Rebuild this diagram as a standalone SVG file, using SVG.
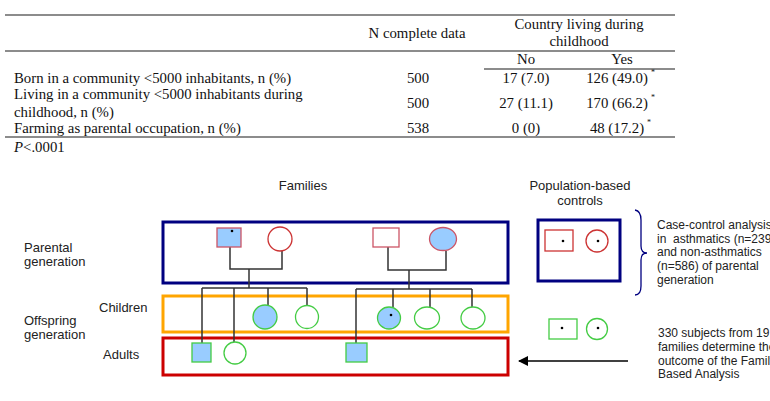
<svg xmlns="http://www.w3.org/2000/svg" width="770" height="401" viewBox="0 0 770 401">
<defs>
<style>
.tt{font-family:"Liberation Serif","Times New Roman",serif;font-size:14.8px;fill:#111}
.c{text-anchor:middle}
.sup{font-size:8px}
.lab{font-family:"Liberation Sans",Arial,sans-serif;font-size:13px;fill:#222}
.note{font-family:"Liberation Sans",Arial,sans-serif;font-size:12px;fill:#222}
.rule{stroke:#666;stroke-width:1.5}
.navy{fill:none;stroke:#000080;stroke-width:3}
.orange{fill:none;stroke:#FFA500;stroke-width:3}
.redbox{fill:none;stroke:#CC0000;stroke-width:3}
.link{fill:none;stroke:#333;stroke-width:1.5}
.aff{fill:#99CCFF}
.pstroke{stroke:#CC5566;stroke-width:1.3}
.rstroke{stroke:#CC3333;stroke-width:1.3}
.gstroke{stroke:#44CC44;stroke-width:1.3}
.open{fill:#fff}
.dot{fill:#000}
</style>
<marker id="arr" viewBox="0 0 10 10" refX="9" refY="5" markerWidth="10" markerHeight="10" markerUnits="userSpaceOnUse" orient="auto">
<path d="M0,0 L10,5 L0,10 z" fill="#000"/>
</marker>
</defs>
<rect width="770" height="401" fill="#fff"/>

<g id="table">
<line class="rule" x1="5" y1="15" x2="675" y2="15"/>
<line class="rule" x1="5" y1="51" x2="675" y2="51"/>
<line class="rule" x1="484" y1="69" x2="675" y2="69"/>
<line class="rule" x1="5" y1="137" x2="675" y2="137"/>
<text class="tt c" x="417" y="38">N complete data</text>
<text class="tt c" x="579" y="29">Country living during</text>
<text class="tt c" x="579" y="46">childhood</text>
<text class="tt c" x="526" y="64">No</text>
<text class="tt c" x="622" y="64">Yes</text>
<text class="tt" x="14" y="83">Born in a community &lt;5000 inhabitants, n (%)</text>
<text class="tt" x="14" y="99">Living in a community &lt;5000 inhabitants during</text>
<text class="tt" x="14" y="117">childhood, n (%)</text>
<text class="tt" x="14" y="133">Farming as parental occupation, n (%)</text>
<text class="tt c" x="418" y="83">500</text>
<text class="tt c" x="526" y="83">17 (7.0)</text>
<text class="tt c" x="617" y="83">126 (49.0)</text>
<text class="tt sup" x="651" y="75">*</text>
<text class="tt c" x="418" y="108">500</text>
<text class="tt c" x="526" y="108">27 (11.1)</text>
<text class="tt c" x="617" y="108">170 (66.2)</text>
<text class="tt sup" x="651" y="100">*</text>
<text class="tt c" x="418" y="133">538</text>
<text class="tt c" x="526" y="133">0 (0)</text>
<text class="tt c" x="617" y="133">48 (17.2)</text>
<text class="tt sup" x="647" y="125">*</text>
<text class="tt" x="14" y="152"><tspan font-style="italic">P</tspan>&lt;.0001</text>
</g>

<g id="labels">
<text class="lab c" x="303" y="190">Families</text>
<text class="lab c" x="580" y="190">Population-based</text>
<text class="lab c" x="580" y="205">controls</text>
<text class="lab" x="24" y="252">Parental</text>
<text class="lab" x="24" y="266">generation</text>
<text class="lab" x="99" y="312">Children</text>
<text class="lab" x="24" y="325">Offspring</text>
<text class="lab" x="24" y="339">generation</text>
<text class="lab" x="103" y="359">Adults</text>
</g>

<g id="boxes">
<rect id="parental-box" class="navy" x="163" y="222" width="345" height="61"/>
<rect id="children-box" class="orange" x="163" y="296" width="345" height="36"/>
<rect id="adults-box" class="redbox" x="163" y="338" width="345" height="37"/>
<rect id="controls-box" class="navy" x="538" y="220" width="82" height="61"/>
</g>

<g id="connectors">
<polyline class="link" points="230,247 230,269 282,269 282,251"/>
<line class="link" x1="249" y1="269" x2="249" y2="288"/>
<line class="link" x1="202" y1="288" x2="307" y2="288"/>
<line class="link" x1="202" y1="288" x2="202" y2="343"/>
<line class="link" x1="234" y1="288" x2="234" y2="342"/>
<line class="link" x1="268" y1="288" x2="268" y2="305"/>
<line class="link" x1="307" y1="288" x2="307" y2="306"/>
<polyline class="link" points="388,247 388,270 446,270 446,251"/>
<line class="link" x1="409" y1="270" x2="409" y2="289"/>
<line class="link" x1="356" y1="289" x2="472" y2="289"/>
<line class="link" x1="356" y1="289" x2="356" y2="343"/>
<line class="link" x1="393" y1="289" x2="393" y2="307"/>
<line class="link" x1="430" y1="289" x2="430" y2="307"/>
<line class="link" x1="472" y1="289" x2="472" y2="307"/>
<line x1="628" y1="361" x2="519" y2="361" stroke="#000" stroke-width="1.5" marker-end="url(#arr)"/>
<path d="M635,210 Q641,211 641,220 L641,246 Q641,253 647,253 Q641,253 641,260 L641,286 Q641,295 635,295" fill="none" stroke="#000080" stroke-width="1.3"/>
</g>

<g id="f1-father"><rect class="aff pstroke" x="217" y="228" width="24" height="19"/><circle class="dot" cx="232" cy="231" r="1.3"/></g>
<g id="f1-mother"><circle class="open rstroke" cx="280" cy="239" r="12"/></g>
<g id="f2-father"><rect class="open pstroke" x="373" y="228" width="26" height="19"/></g>
<g id="f2-mother"><ellipse class="aff pstroke" cx="443" cy="239" rx="13.5" ry="11.5"/></g>
<g id="f1-child1"><ellipse class="aff gstroke" cx="265" cy="317" rx="12" ry="12" stroke-width="2"/></g>
<g id="f1-child2"><circle class="open gstroke" cx="307" cy="317" r="11.5"/></g>
<g id="f2-child1"><ellipse class="aff gstroke" cx="389" cy="318" rx="11.5" ry="11"/><circle class="dot" cx="391" cy="315" r="1.3"/></g>
<g id="f2-child2"><ellipse class="open gstroke" cx="427" cy="318" rx="12.5" ry="11"/></g>
<g id="f2-child3"><ellipse class="open gstroke" cx="473" cy="318" rx="12" ry="11"/></g>
<g id="f1-adult1"><rect class="aff gstroke" x="192" y="343" width="19" height="19"/></g>
<g id="f1-adult2"><circle class="open gstroke" cx="235" cy="353" r="11"/></g>
<g id="f2-adult1"><rect class="aff gstroke" x="346" y="343" width="21" height="19"/></g>

<g id="control-father"><rect class="open rstroke" x="545" y="230" width="28" height="21"/><circle class="dot" cx="563" cy="241" r="1.3"/></g>
<g id="control-mother"><circle class="open rstroke" cx="597" cy="241" r="11"/><circle class="dot" cx="598" cy="241" r="1.3"/></g>
<g id="control-child-m"><rect class="open gstroke" x="549" y="319" width="28" height="20"/><circle class="dot" cx="562" cy="328" r="1.3"/></g>
<g id="control-child-f"><circle class="open gstroke" cx="597" cy="329" r="10.5"/><circle class="dot" cx="598" cy="328" r="1.3"/></g>

<g id="notes">
<text class="note" x="657" y="229">Case-control analysis</text>
<text class="note" x="657" y="243" xml:space="preserve">in  asthmatics (n=239</text>
<text class="note" x="657" y="256">and non-asthmatics</text>
<text class="note" x="657" y="270">(n=586) of parental</text>
<text class="note" x="657" y="284">generation</text>
<text class="note" x="658" y="337">330 subjects from 19</text>
<text class="note" x="658" y="351">families determine the</text>
<text class="note" x="658" y="365">outcome of the Family</text>
<text class="note" x="658" y="378">Based Analysis</text>
</g>
</svg>
